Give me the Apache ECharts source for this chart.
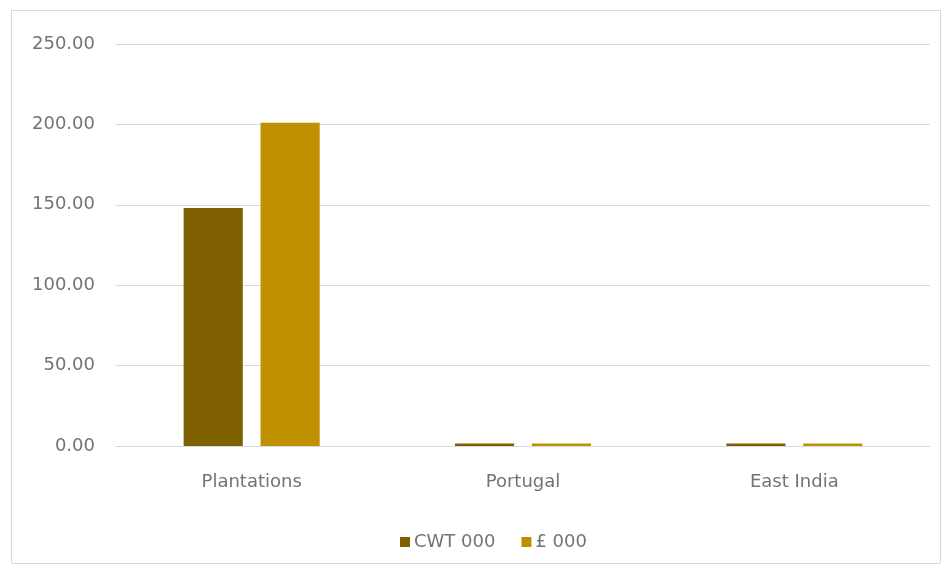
<!DOCTYPE html>
<html>
<head>
<meta charset="utf-8">
<script src="https://cdn.jsdelivr.net/npm/echarts@6/dist/echarts.min.js"></script>
<style>
  html, body { margin: 0; padding: 0; background: #ffffff; }
  #chart { width: 952px; height: 573px; }
</style>
</head>
<body>
<div id="chart"></div>
<script>
// Imports by source: quantity (CWT thousands) and value (£ thousands)
const categories = ['Plantations', 'Portugal', 'East India'];
const cwtValues = [148, 1.5, 1.5];
const poundValues = [201, 1.5, 1.5];
const seriesNames = ['CWT 000', '£ 000'];

const labelFont = '"DejaVu Sans", "Liberation Sans", sans-serif';
const textColor = '#737373';

const chart = echarts.init(document.getElementById('chart'));
chart.setOption({
  backgroundColor: '#ffffff',
  animation: false,
  graphic: [{
    type: 'rect',
    shape: { x: 11.5, y: 10.5, width: 929, height: 553 },
    style: { fill: 'none', stroke: '#d9d9d9', lineWidth: 1 },
    silent: true
  }],
  grid: { left: 116, right: 22, top: 44, bottom: 127 },
  legend: {
    data: seriesNames,
    top: 528,
    left: 395,
    itemWidth: 10,
    itemHeight: 10,
    itemGap: 26,
    icon: 'rect',
    textStyle: { color: textColor, fontSize: 18, fontFamily: labelFont, padding: [0, 0, 0, -1] }
  },
  xAxis: {
    type: 'category',
    data: categories,
    axisLine: { show: true, lineStyle: { color: '#d9d9d9', width: 1 } },
    axisTick: { show: false },
    axisLabel: { color: textColor, fontSize: 18, fontFamily: labelFont, margin: 27 }
  },
  yAxis: {
    type: 'value',
    min: 0,
    max: 250,
    interval: 50,
    axisLine: { show: false },
    axisTick: { show: false },
    splitLine: { lineStyle: { color: '#d9d9d9', width: 1 } },
    axisLabel: {
      color: textColor, fontSize: 18, fontFamily: labelFont, margin: 21,
      formatter: v => v.toFixed(2)
    }
  },
  series: [
    {
      name: seriesNames[0],
      type: 'bar',
      data: cwtValues,
      barWidth: '21.8%',
      barGap: '30%',
      itemStyle: { color: '#7f6000' }
    },
    {
      name: seriesNames[1],
      type: 'bar',
      data: poundValues,
      barWidth: '21.8%',
      itemStyle: { color: '#bf9000' }
    }
  ]
});
</script>
</body>
</html>
